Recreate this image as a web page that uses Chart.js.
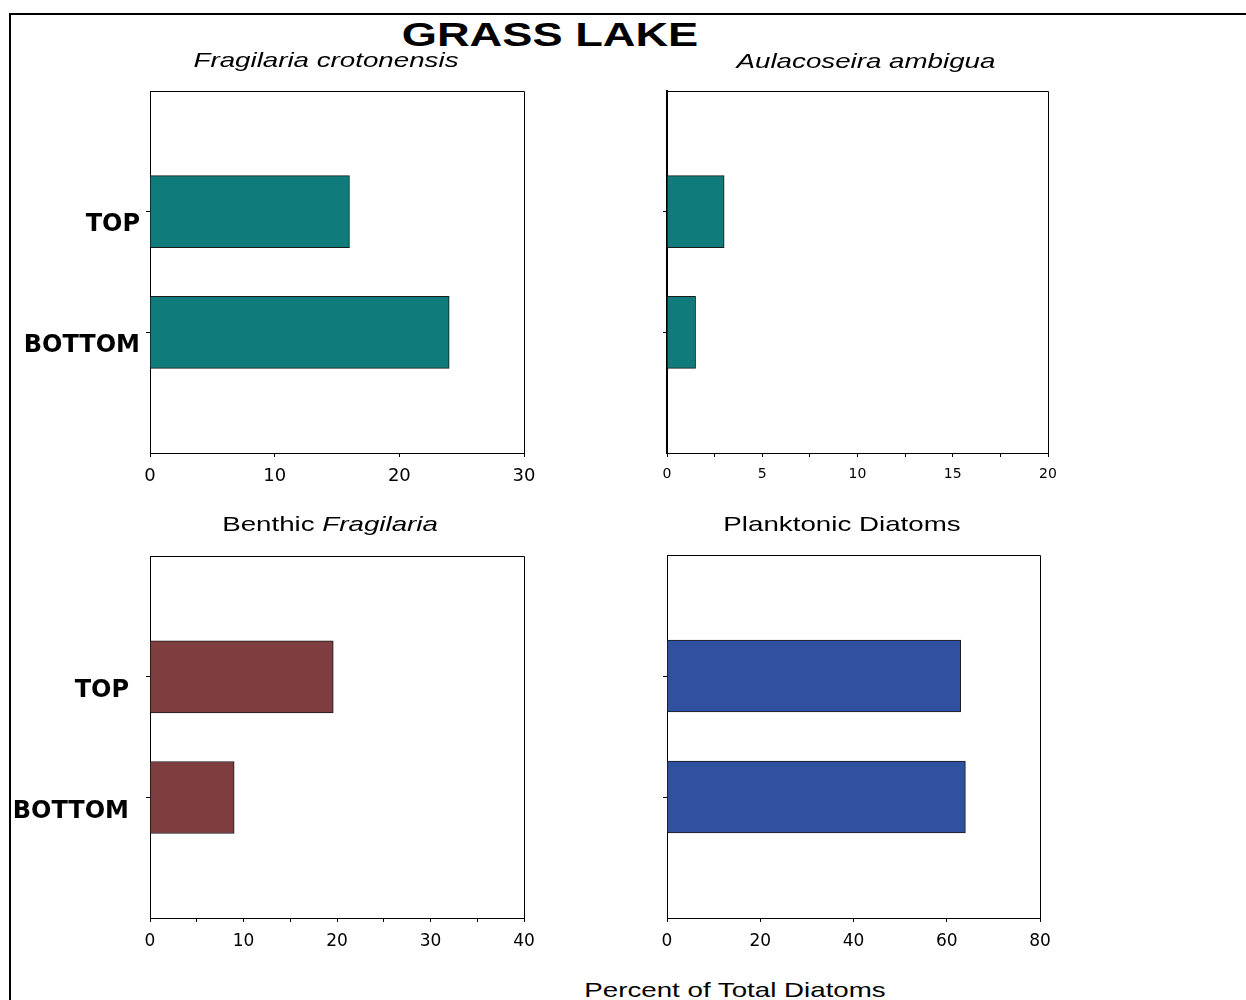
<!DOCTYPE html>
<html>
<head>
<meta charset="utf-8">
<title>Grass Lake</title>
<script src="https://cdn.jsdelivr.net/npm/chart.js@4/dist/chart.umd.min.js"></script>
<style>
  html, body { margin: 0; padding: 0; background: #fff; }
  body { width: 1246px; height: 1000px; position: relative; overflow: hidden;
         font-family: "Liberation Sans", Arial, sans-serif; color: #000; }
  #frame { position: absolute; left: 9px; top: 13px; right: -4px; bottom: -4px;
           border-top: 2px solid #000; border-left: 2px solid #000; }
  canvas { position: absolute; }
  .label { position: absolute; white-space: nowrap; font-size: 21px; line-height: 21px;
           transform: translateX(-50%) scaleX(1.32); z-index: 2; }
  .main { font-size: 34px; line-height: 34px; font-weight: bold;
          transform: translateX(-50%) scaleX(1.33); }
</style>
</head>
<body>
<div id="frame"></div>

<div class="label main" style="left:550px; top:17px;">GRASS LAKE</div>
<div class="label" style="left:326px; top:49px;"><i>Fragilaria crotonensis</i></div>
<div class="label" style="left:866px; top:50px;"><i>Aulacoseira ambigua</i></div>
<div class="label" style="left:330px; top:513px;">Benthic <i>Fragilaria</i></div>
<div class="label" style="left:842px; top:513px;">Planktonic Diatoms</div>
<div class="label" style="left:735px; top:979px;">Percent of Total Diatoms</div>

<canvas id="crotonensis"></canvas>
<canvas id="ambigua"></canvas>
<canvas id="benthic"></canvas>
<canvas id="planktonic"></canvas>

<script>
// Core samples
const categories = ['TOP', 'BOTTOM'];

// Percent of total diatoms per sample
const fragilariaCrotonensis = [16, 24];
const aulacoseiraAmbigua   = [3, 1.5];
const benthicFragilaria    = [19.6, 9];
const planktonicDiatoms    = [63, 64];

// Labelled x-axis ticks for each panel
const crotonensisTicks = [0, 10, 20, 30];
const ambiguaTicks     = [0, 5, 10, 15, 20];
const benthicTicks     = [0, 10, 20, 30, 40];
const planktonicTicks  = [0, 20, 40, 60, 80];

const TEAL = '#0F7B7A';
const MAROON = '#7E3E40';
const BLUE = '#3050A0';

// Fixed outer margins around each plot box
const Y_AXIS_W = 140, PAD_TOP = 30, PAD_RIGHT = 40, X_AXIS_H = 50;

// Closes the plot box (top and right edges)
const plotBox = {
  id: 'plotBox',
  afterDraw(chart) {
    const { ctx, chartArea } = chart;
    const l = Math.round(chartArea.left), t = Math.round(chartArea.top);
    const r = Math.round(chartArea.right), b = Math.round(chartArea.bottom);
    ctx.save();
    ctx.strokeStyle = '#000';
    ctx.lineWidth = 1;
    ctx.beginPath();
    ctx.moveTo(l, t + 0.5);
    ctx.lineTo(r + 0.5, t + 0.5);
    ctx.lineTo(r + 0.5, b);
    ctx.stroke();
    ctx.restore();
  }
};

function panel(id, plot, values, color, majorTicks, opt) {
  const canvas = document.getElementById(id);
  const w = plot.right - plot.left + Y_AXIS_W + PAD_RIGHT;
  const h = plot.bottom - plot.top + PAD_TOP + X_AXIS_H;
  canvas.width = w;
  canvas.height = h;
  canvas.style.left = (plot.left - Y_AXIS_W) + 'px';
  canvas.style.top = (plot.top - PAD_TOP) + 'px';

  const xMax = majorTicks[majorTicks.length - 1];
  const step = majorTicks[1] - majorTicks[0];

  return new Chart(canvas, {
    type: 'bar',
    data: {
      datasets: [{
        data: values.map((v, i) => ({ x: v, y: i + 1 })),
        backgroundColor: color,
        borderColor: '#1a1a1a',
        borderWidth: 1,
        barThickness: 72
      }]
    },
    options: {
      indexAxis: 'y',
      responsive: false,
      animation: false,
      devicePixelRatio: 1,
      layout: { padding: { left: 0, top: PAD_TOP, right: PAD_RIGHT, bottom: 0 } },
      plugins: { legend: { display: false }, tooltip: { enabled: false } },
      scales: {
        x: {
          type: 'linear',
          position: 'bottom',
          offset: false,
          min: 0,
          max: xMax,
          afterBuildTicks(scale) {
            const ticks = [];
            const inc = opt.minor ? step / 2 : step;
            for (let v = 0; v <= xMax + 1e-9; v += inc) ticks.push({ value: v });
            scale.ticks = ticks;
          },
          afterFit(scale) { scale.height = X_AXIS_H; },
          grid: { offset: false, drawOnChartArea: false, drawTicks: true, tickLength: 4, color: '#000', lineWidth: 1 },
          border: { display: true, color: '#000', width: 1 },
          ticks: {
            color: '#000',
            font: { family: 'DejaVu Sans', size: opt.xFont },
            padding: 9,
            maxRotation: 0,
            autoSkip: false,
            callback: (v) => majorTicks.includes(v) ? String(v) : ''
          }
        },
        y: {
          type: 'linear',
          offset: false,
          min: 0,
          max: categories.length + 1,
          reverse: true,
          afterBuildTicks(scale) {
            scale.ticks = categories.map((c, i) => ({ value: i + 1 }));
          },
          afterFit(scale) { scale.width = Y_AXIS_W; },
          grid: { offset: false, drawOnChartArea: false, drawTicks: true, tickLength: 4, color: '#000', lineWidth: 1 },
          border: { display: true, color: '#000', width: opt.yBorder || 1 },
          ticks: {
            color: '#000',
            font: { family: 'DejaVu Sans', size: 24, weight: 'bold' },
            padding: opt.yPad || 6,
            labelOffset: opt.yOffset || 11,
            autoSkip: false,
            callback: (v) => opt.showLabels ? categories[v - 1] : ''
          }
        }
      }
    },
    plugins: [plotBox]
  });
}

panel('crotonensis', { left: 150, top: 91, right: 524, bottom: 453 },
      fragilariaCrotonensis, TEAL, crotonensisTicks,
      { xFont: 18, showLabels: true, yPad: 6, yOffset: 13 });

panel('ambigua', { left: 667, top: 91, right: 1048, bottom: 453 },
      aulacoseiraAmbigua, TEAL, ambiguaTicks,
      { xFont: 14, minor: true, showLabels: false, yBorder: 2 });

panel('benthic', { left: 150, top: 555, right: 524, bottom: 918 },
      benthicFragilaria, MAROON, benthicTicks,
      { xFont: 17, minor: true, showLabels: true, yPad: 17, yOffset: 14 });

panel('planktonic', { left: 667, top: 555, right: 1040, bottom: 918 },
      planktonicDiatoms, BLUE, planktonicTicks,
      { xFont: 17, showLabels: false });
</script>
</body>
</html>
